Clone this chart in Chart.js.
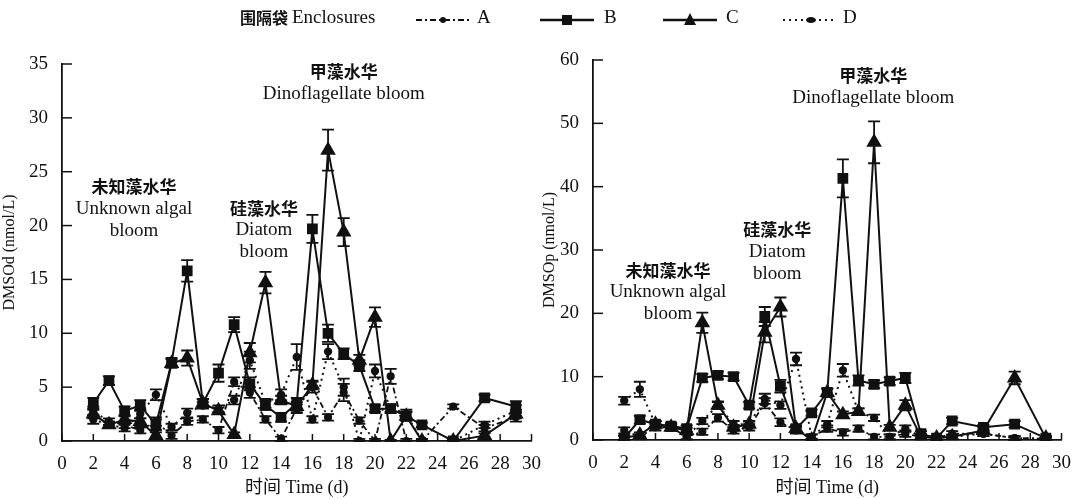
<!DOCTYPE html>
<html>
<head>
<meta charset="utf-8">
<script src="https://cdn.jsdelivr.net/npm/chart.js@4/dist/chart.umd.min.js"></script>
<style>
  body { margin: 0; background: #fff; }
  #wrap { position: relative; width: 1075px; height: 499px; overflow: hidden; }
  #left { position: absolute; left: 0; top: 0; }
  #right { position: absolute; left: 540px; top: 0; }
  #legend { position: absolute; top: 6px; left: 240px; height: 26px; white-space: nowrap;
            font-family: "Liberation Serif", serif; font-size: 19px; color: #111; }
  #legend span, #legend svg { position: absolute; top: 0; }
  #legend .cjk { font-family: "Noto Sans CJK SC", sans-serif; font-weight: 700; font-size: 16px; top: -1px; }
</style>
</head>
<body>
<div id="wrap">
  <canvas id="left" width="545" height="499"></canvas>
  <canvas id="right" width="535" height="499"></canvas>
  <div id="legend">
    <span class="cjk" style="left:0">围隔袋</span>
    <span style="left:52px">Enclosures</span>
    <svg style="left:174px;top:4px" width="58" height="20"><line x1="2" y1="10" x2="56" y2="10" stroke="#111" stroke-width="2" stroke-dasharray="6,3,2,3"/><circle cx="29" cy="10" r="3" fill="#111"/></svg>
    <span style="left:237px">A</span>
    <svg style="left:298px;top:4px" width="58" height="20"><line x1="2" y1="10" x2="56" y2="10" stroke="#111" stroke-width="2.5"/><rect x="24" y="5" width="10" height="10" fill="#111"/></svg>
    <span style="left:364px">B</span>
    <svg style="left:421px;top:4px" width="58" height="20"><line x1="2" y1="10" x2="56" y2="10" stroke="#111" stroke-width="2.5"/><path d="M29 3 L35 15 L23 15 Z" fill="#111"/></svg>
    <span style="left:486px">C</span>
    <svg style="left:541px;top:4px" width="56" height="20"><line x1="2" y1="10" x2="54" y2="10" stroke="#111" stroke-width="2" stroke-dasharray="2,4"/><ellipse cx="30" cy="10" rx="5" ry="3" fill="#111"/></svg>
    <span style="left:603px">D</span>
  </div>
</div>
<script>
// 采样时间 (d)
const days = [2, 3, 4, 5, 6, 7, 8, 9, 10, 11, 12, 13, 14, 15, 16, 17, 18, 19, 20, 21, 22, 23, 25, 27, 29];

// DMSOd (nmol/L)
const dmsodA = [2.8, 1.8, 1.5, 1.0, 1.8, 0.5, 1.8, 2.0, 1.0, 5.5, 4.5, 2.0, 0.2, 3.0, 5.0, 2.2, 4.5, 1.9, 0.0, 6.0, 0.0, 0.0, 3.2, 1.2, 2.2];
const dmsodB = [3.5, 5.6, 2.8, 3.3, 1.5, 7.3, 15.8, 3.5, 6.3, 10.8, 5.3, 3.3, 2.2, 3.5, 19.7, 10.0, 8.1, 7.0, 3.0, 3.0, 2.3, 1.5, 0.0, 4.0, 3.2];
const dmsodC = [2.5, 1.5, 2.0, 1.8, 0.5, 7.2, 7.7, 3.5, 2.8, 0.6, 8.2, 14.7, 3.8, 3.2, 5.2, 27.0, 19.4, 7.5, 11.5, 0.0, 2.3, 0.0, 0.0, 0.5, 2.5];
const dmsodD = [2.0, 1.5, 1.2, 2.5, 4.3, 1.3, 2.6, 3.3, 3.0, 3.8, 7.5, 3.5, 4.3, 7.8, 2.0, 8.3, 5.0, 0.0, 6.5, 3.0, 2.5, 0.0, 0.0, 1.5, 2.8];
const dmsodErrA = [0.4, 0.3, 0.3, 0.3, 0.4, 0.3, 0.3, 0.3, 0.3, 0.4, 0.5, 0.3, 0.2, 0.4, 0.5, 0.3, 0.8, 0.3, 0.2, 0.7, 0.2, 0.2, 0.2, 0.3, 0.4];
const dmsodErrB = [0.5, 0.4, 0.4, 0.5, 0.5, 0.4, 1.0, 0.4, 0.8, 0.7, 0.6, 0.4, 0.4, 0.5, 1.3, 0.8, 0.5, 0.5, 0.3, 0.3, 0.4, 0.2, 0.1, 0.3, 0.5];
const dmsodErrC = [0.4, 0.3, 0.3, 0.3, 0.3, 0.4, 0.7, 0.4, 0.3, 0.2, 0.9, 1.0, 0.4, 0.4, 0.4, 1.9, 1.3, 0.5, 0.9, 0.1, 0.4, 0.1, 0.1, 0.2, 0.4];
const dmsodErrD = [0.4, 0.3, 0.3, 0.4, 0.5, 0.3, 0.4, 0.3, 0.3, 0.4, 0.8, 0.4, 0.5, 1.2, 0.3, 0.7, 0.8, 0.2, 0.6, 0.4, 0.4, 0.2, 0.2, 0.3, 0.5];

// DMSOp (nmol/L)
const dmsopA = [1.5, 0.5, 2.0, 2.0, 0.5, 1.3, 3.5, 1.5, 2.0, 5.8, 2.8, 1.5, 0.5, 1.8, 1.2, 1.8, 0.5, 0.5, 1.0, 0.5, 0.3, 1.0, 1.0, 0.3, 0.2];
const dmsopB = [0.3, 3.2, 2.5, 2.2, 1.8, 9.8, 10.2, 10.0, 5.5, 19.5, 8.5, 1.8, 4.3, 7.5, 41.3, 9.4, 8.8, 9.3, 9.8, 1.0, 0.3, 3.0, 2.0, 2.5, 0.3];
const dmsopC = [0.3, 0.8, 2.5, 2.0, 1.5, 18.5, 5.5, 2.0, 2.5, 17.0, 21.0, 1.8, 0.0, 7.5, 4.0, 4.5, 47.0, 2.0, 5.5, 0.5, 0.3, 0.5, 1.5, 9.8, 0.3];
const dmsopD = [6.2, 8.0, 2.5, 2.0, 0.5, 3.0, 5.5, 2.5, 2.5, 6.5, 5.5, 12.8, 0.5, 2.5, 11.0, 4.5, 3.5, 0.5, 1.8, 0.5, 0.3, 0.5, 1.0, 0.3, 0.2];
const dmsopErrA = [0.5, 0.4, 0.5, 0.5, 0.4, 0.5, 0.6, 0.5, 0.5, 0.8, 0.6, 0.5, 0.4, 0.5, 0.5, 0.5, 0.4, 0.4, 0.5, 0.4, 0.3, 0.4, 0.4, 0.3, 0.2];
const dmsopErrB = [0.4, 0.6, 0.5, 0.5, 0.5, 0.6, 0.6, 0.6, 0.5, 1.5, 1.0, 0.5, 0.5, 0.6, 3.0, 0.8, 0.6, 0.6, 0.8, 0.4, 0.3, 0.5, 0.4, 0.5, 0.3];
const dmsopErrC = [0.3, 0.4, 0.4, 0.4, 0.4, 1.6, 0.5, 0.4, 0.4, 1.6, 1.5, 0.4, 0.2, 0.6, 0.5, 0.5, 3.3, 0.4, 0.8, 0.3, 0.3, 0.3, 0.4, 1.0, 0.3];
const dmsopErrD = [0.6, 1.2, 0.5, 0.5, 0.4, 0.5, 0.6, 0.5, 0.5, 0.8, 0.6, 1.0, 0.4, 0.5, 1.0, 0.5, 0.5, 0.4, 0.5, 0.4, 0.3, 0.4, 0.4, 0.3, 0.2];

// 水华注释
const notesLeft = [
  { x: 4.6, y: 23.6, lines: ['未知藻水华', 'Unknown algal', 'bloom'] },
  { x: 12.9, y: 21.6, lines: ['硅藻水华', 'Diatom', 'bloom'] },
  { x: 18.0, y: 34.3, lines: ['甲藻水华', 'Dinoflagellate bloom'] }
];
const notesRight = [
  { x: 4.8, y: 26.8, lines: ['未知藻水华', 'Unknown algal', 'bloom'] },
  { x: 11.8, y: 33.2, lines: ['硅藻水华', 'Diatom', 'bloom'] },
  { x: 17.95, y: 57.5, lines: ['甲藻水华', 'Dinoflagellate bloom'] }
];

const ink = '#111';
const serif = '"Liberation Serif", "Times New Roman", serif';

function pts(vals) {
  return days.map((d, i) => ({ x: d, y: vals[i] }));
}

function makeSets(a, b, c, d, ea, eb, ec, ed) {
  return [
    { label: 'A', data: pts(a), err: ea, borderColor: ink, backgroundColor: ink, borderWidth: 1.8,
      borderDash: [6, 3, 2, 3], pointStyle: 'circle', pointRadius: 3.2 },
    { label: 'B', data: pts(b), err: eb, borderColor: ink, backgroundColor: ink, borderWidth: 2,
      pointStyle: 'rect', pointRadius: 6.2 },
    { label: 'C', data: pts(c), err: ec, borderColor: ink, backgroundColor: ink, borderWidth: 2,
      pointStyle: 'triangle', pointRadius: 7 },
    { label: 'D', data: pts(d), err: ed, borderColor: ink, backgroundColor: ink, borderWidth: 2,
      borderDash: [2, 4], pointStyle: 'circle', pointRadius: 3.2 }
  ];
}

// 误差线 + 向内刻度 + 注释
const extras = {
  id: 'extras',
  afterDatasetsDraw(chart) {
    const { ctx, scales: { x, y } } = chart;
    ctx.save();
    ctx.strokeStyle = ink;
    ctx.lineWidth = 1.8;
    chart.data.datasets.forEach(ds => {
      ds.data.forEach((p, i) => {
        const e = ds.err[i];
        if (!e) return;
        const px = x.getPixelForValue(p.x);
        const top = y.getPixelForValue(p.y + e);
        const bot = y.getPixelForValue(Math.max(0, p.y - e));
        ctx.beginPath();
        ctx.moveTo(px, top); ctx.lineTo(px, bot);
        ctx.moveTo(px - 6, top); ctx.lineTo(px + 6, top);
        ctx.moveTo(px - 6, bot); ctx.lineTo(px + 6, bot);
        ctx.stroke();
      });
    });
    // inward ticks
    ctx.lineWidth = 1.5;
    const area = chart.chartArea;
    x.ticks.forEach(t => {
      const px = x.getPixelForValue(t.value);
      ctx.beginPath(); ctx.moveTo(px, area.bottom); ctx.lineTo(px, area.bottom - 7); ctx.stroke();
    });
    y.ticks.forEach(t => {
      const py = y.getPixelForValue(t.value);
      ctx.beginPath(); ctx.moveTo(area.left, py); ctx.lineTo(area.left + 10, py); ctx.stroke();
    });
    // notes
    ctx.fillStyle = ink;
    ctx.textAlign = 'center';
    ctx.textBaseline = 'middle';
    chart.options.plugins.extras.notes.forEach(n => {
      const cx = x.getPixelForValue(n.x);
      let cy = y.getPixelForValue(n.y);
      n.lines.forEach(line => {
        ctx.font = /[\u4e00-\u9fa5]/.test(line) ? '700 17px "Noto Sans CJK SC", sans-serif' : '19px ' + serif;
        ctx.fillText(line, cx, cy);
        cy += 22;
      });
    });
    ctx.restore();
  }
};

function makeChart(id, sets, yMax, yTitle, yWidth, padTop, padRight, xHeight, notes) {
  return new Chart(document.getElementById(id), {
    type: 'line',
    data: { datasets: sets },
    options: {
      responsive: false,
      animation: false,
      layout: { padding: { top: padTop, right: padRight, left: 0, bottom: 0 } },
      plugins: {
        legend: { display: false },
        tooltip: { enabled: false },
        extras: { notes: notes }
      },
      scales: {
        x: {
          type: 'linear', min: 0, max: 30,
          grid: { display: false },
          border: { display: true, color: ink, width: 1.8 },
          ticks: { stepSize: 2, color: ink, font: { family: serif, size: 19 }, padding: 4, maxRotation: 0 },
          title: { display: true, text: '时间 Time (d)', color: ink,
                   font: { family: '"Liberation Serif", "Noto Sans CJK SC", serif', size: 18 }, padding: { top: 0, bottom: 0 } },
          afterFit(s) { s.height = xHeight; }
        },
        y: {
          min: 0, max: yMax,
          grid: { display: false },
          border: { display: true, color: ink, width: 1.8 },
          ticks: { stepSize: yMax === 35 ? 5 : 10, color: ink, font: { family: serif, size: 19 }, padding: 6 },
          title: { display: true, text: yTitle, color: ink, font: { family: serif, size: 16 }, padding: { top: 0, bottom: 4 } },
          afterFit(s) { s.width = yWidth; }
        }
      }
    },
    plugins: [extras]
  });
}

makeChart('left', makeSets(dmsodA, dmsodB, dmsodC, dmsodD, dmsodErrA, dmsodErrB, dmsodErrC, dmsodErrD),
  35, 'DMSOd (nmol/L)', 62, 64, 8, 58, notesLeft);
makeChart('right', makeSets(dmsopA, dmsopB, dmsopC, dmsopD, dmsopErrA, dmsopErrB, dmsopErrC, dmsopErrD),
  60, 'DMSOp (nmol/L)', 53, 60, 11, 59, notesRight);
</script>
</body>
</html>
